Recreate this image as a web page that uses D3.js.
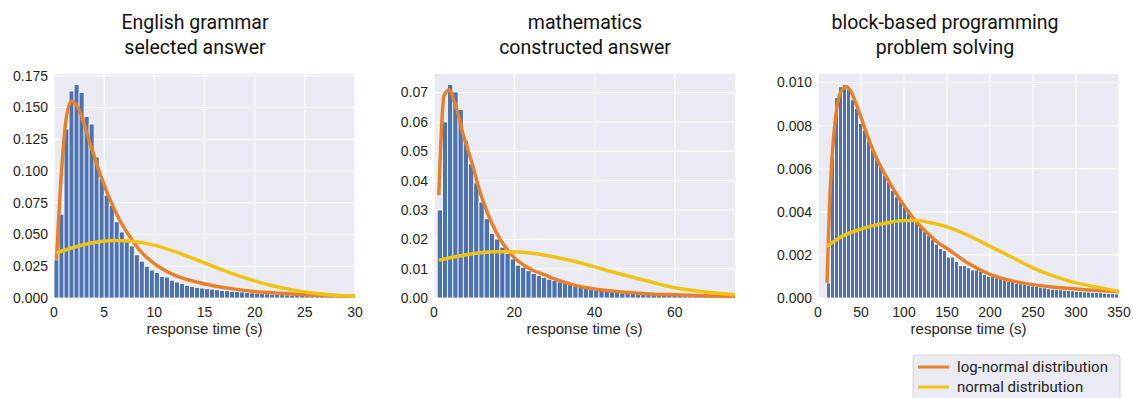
<!DOCTYPE html>
<html>
<head>
<meta charset="utf-8">
<script src="https://cdn.jsdelivr.net/npm/d3@7"></script>
<style>
  html, body { margin: 0; padding: 0; background: #ffffff; }
  svg { display: block; }
</style>
</head>
<body>
<div id="chart"></div>
<script>
/* Response-time histograms with fitted log-normal and normal curves */

var TITLES_TOP    = ['English grammar', 'mathematics', 'block-based programming'];
var TITLES_BOTTOM = ['selected answer', 'constructed answer', 'problem solving'];

var X_DOMAINS = [[0, 30], [0, 75], [0, 350]];
var X_TICKS = [
  [0, 5, 10, 15, 20, 25, 30],
  [0, 20, 40, 60],
  [0, 50, 100, 150, 200, 250, 300, 350]
];
var Y_TICKS = [
  [0, 0.025, 0.05, 0.075, 0.1, 0.125, 0.15, 0.175],
  [0, 0.01, 0.02, 0.03, 0.04, 0.05, 0.06, 0.07],
  [0, 0.002, 0.004, 0.006, 0.008, 0.01]
];
var Y_TICK_FORMATS = ['.3f', '.2f', '.3f'];

// histogram bins: first edge and width per panel
var BIN_START = [0, 0.8, 10];
var BIN_WIDTH = [0.5, 1.3, 4.65];

var ENGLISH_HIST = [
  0.030, 0.066, 0.133, 0.163, 0.168, 0.162, 0.143, 0.137, 0.111, 0.094,
  0.081, 0.073, 0.060, 0.052, 0.045, 0.041, 0.034, 0.029, 0.025, 0.022,
  0.020, 0.017, 0.0165, 0.014, 0.0126, 0.0113, 0.0100, 0.0090, 0.0084, 0.0078,
  0.0073, 0.0070, 0.0065, 0.0060, 0.0057, 0.0053, 0.0050, 0.0047, 0.0044, 0.0040,
  0.0038, 0.0035, 0.0033, 0.0030, 0.0028, 0.0026, 0.0024, 0.0022, 0.0020, 0.0019,
  0.0018, 0.0017, 0.0016, 0.0015, 0.0014, 0.0013, 0.0012, 0.0012, 0.0011, 0.0010
];
var MATH_HIST = [
  0.030, 0.060, 0.0727, 0.0702, 0.0642, 0.0537, 0.0457, 0.0392, 0.0327, 0.0270,
  0.0220, 0.0201, 0.0173, 0.0152, 0.0133, 0.0112, 0.0105, 0.0093, 0.0084, 0.0076,
  0.0070, 0.0064, 0.0059, 0.0055, 0.0051, 0.0046, 0.0040, 0.0037, 0.0034, 0.0031,
  0.0028, 0.0026, 0.0024, 0.0021, 0.0019, 0.0017, 0.0016, 0.0015, 0.0014, 0.0013,
  0.0012, 0.0012, 0.0011, 0.0010, 0.0010, 0.0009, 0.0009, 0.0008, 0.0008, 0.0008,
  0.0007, 0.0007, 0.0006, 0.0006, 0.0006, 0.0005, 0.0005
];
var BLOCK_HIST = [
  0.0007, 0.0070, 0.0093, 0.0098, 0.0099, 0.0097, 0.0092, 0.0088, 0.0081, 0.0078,
  0.0073, 0.0069, 0.0066, 0.0061, 0.0057, 0.0054, 0.0050, 0.0047, 0.0045, 0.0042,
  0.0041, 0.0038, 0.0036, 0.0034, 0.0031, 0.0029, 0.0027, 0.0025, 0.0023, 0.0022,
  0.0019, 0.0019, 0.0017, 0.0015, 0.0015, 0.0014, 0.0013, 0.0013, 0.00124, 0.00109,
  0.00101, 0.0010, 0.00093, 0.0009, 0.00084, 0.00078, 0.00078, 0.00068, 0.00066, 0.00062,
  0.0006, 0.00056, 0.00053, 0.0005, 0.00047, 0.00043, 0.00041, 0.0004, 0.00038, 0.00036,
  0.00035, 0.00033, 0.00031, 0.0003, 0.00028, 0.00027, 0.00026, 0.00025, 0.00024, 0.00022,
  0.00021, 0.0002, 0.00019
];

var ENGLISH_LOGNORM_X = [0.25, 0.75, 1.25, 1.75, 2.25, 2.75, 3.5, 4.5, 5.5, 6.5, 7.5, 8.5, 10, 12, 14, 16, 18, 20, 22.5, 25, 27.5, 30];
var ENGLISH_LOGNORM_Y = [0.030, 0.100, 0.143, 0.155, 0.152, 0.143, 0.124, 0.100, 0.079, 0.062, 0.049, 0.038, 0.027, 0.018, 0.013, 0.0095, 0.007, 0.0052, 0.0037, 0.0026, 0.0019, 0.0014];
var ENGLISH_NORM_X = [0.25, 2, 4, 6, 8, 10, 12, 14, 16, 18, 20, 22, 24, 26, 28, 30];
var ENGLISH_NORM_Y = [0.0355, 0.040, 0.0437, 0.0453, 0.0445, 0.0416, 0.0367, 0.0308, 0.0245, 0.0186, 0.0135, 0.0092, 0.006, 0.0037, 0.0021, 0.0012];

var MATH_LOGNORM_X = [1.2, 2.5, 3.9, 5, 6, 7, 8.5, 10, 11, 12.5, 14.3, 16.5, 18.8, 20.5, 22.6, 25, 27.6, 30, 35, 40, 45, 50, 55, 60, 67, 75];
var MATH_LOGNORM_Y = [0.035, 0.069, 0.071, 0.067, 0.0628, 0.057, 0.0503, 0.0435, 0.0383, 0.032, 0.0258, 0.020, 0.0156, 0.0131, 0.011, 0.0092, 0.0079, 0.0065, 0.0044, 0.0031, 0.0023, 0.0017, 0.0013, 0.0011, 0.0008, 0.0005];
var MATH_NORM_X = [1.2, 5, 10, 15, 20, 25, 30, 35, 40, 45, 50, 55, 60, 65, 70, 75];
var MATH_NORM_Y = [0.0129, 0.0140, 0.0152, 0.0158, 0.0158, 0.0152, 0.0140, 0.0125, 0.0106, 0.0087, 0.0069, 0.0051, 0.0035, 0.0025, 0.0017, 0.0011];

var BLOCK_LOGNORM_X = [10.5, 13.2, 16.3, 20.2, 24.8, 29, 33, 38, 43.4, 50, 55, 66.7, 78.3, 90, 101.6, 113, 125, 142, 150, 175, 200, 225, 250, 275, 300, 325, 350];
var BLOCK_LOGNORM_Y = [0.0007, 0.0041, 0.0065, 0.0083, 0.0094, 0.0097, 0.0098, 0.0096, 0.0091, 0.0084, 0.0078, 0.0066, 0.0057, 0.0049, 0.0042, 0.0036, 0.0031, 0.0025, 0.0023, 0.0016, 0.0011, 0.0008, 0.00062, 0.0005, 0.00042, 0.00035, 0.0003];
var BLOCK_NORM_X = [10.5, 25, 50, 75, 100, 115, 130, 150, 175, 200, 225, 250, 275, 300, 325, 350];
var BLOCK_NORM_Y = [0.0024, 0.0028, 0.0032, 0.00345, 0.0036, 0.0036, 0.0035, 0.0033, 0.0029, 0.0024, 0.0019, 0.0014, 0.0010, 0.0007, 0.0005, 0.0003];

var LEGEND_LABELS = ['log-normal distribution', 'normal distribution'];

(function () {
  'use strict';

  var WIDTH = 1133, HEIGHT = 398;
  var PLOT_LEFT = [54, 434, 818];
  var PLOT_WIDTH = 301;
  var PLOT_TOP = 74;
  var PLOT_HEIGHT = 224;
  var TITLE_CENTER = [195, 585, 945];

  var COLOR_BG    = '#eaeaf2';
  var COLOR_GRID  = '#ffffff';
  var COLOR_BAR   = '#4c72b0';
  var COLOR_LOG   = '#e8802a';
  var COLOR_NORM  = '#f2c212';
  var COLOR_TEXT  = '#1f1f1f';
  var TICK_FONT   = '"Liberation Sans", Arial, sans-serif';
  var TITLE_FONT  = 'Roboto, "Noto Sans", sans-serif';
  var CURVE_WIDTH = 3.5;

  var panels = [
    { hist: ENGLISH_HIST, logX: ENGLISH_LOGNORM_X, logY: ENGLISH_LOGNORM_Y, normX: ENGLISH_NORM_X, normY: ENGLISH_NORM_Y },
    { hist: MATH_HIST, logX: MATH_LOGNORM_X, logY: MATH_LOGNORM_Y, normX: MATH_NORM_X, normY: MATH_NORM_Y },
    { hist: BLOCK_HIST, logX: BLOCK_LOGNORM_X, logY: BLOCK_LOGNORM_Y, normX: BLOCK_NORM_X, normY: BLOCK_NORM_Y }
  ];

  var svg = d3.select('#chart').append('svg')
    .attr('width', WIDTH)
    .attr('height', HEIGHT);

  function drawPanel(p, i) {
    var left = PLOT_LEFT[i];
    var x = d3.scaleLinear().domain(X_DOMAINS[i]).range([0, PLOT_WIDTH]);
    var yMax = d3.max(p.hist) * 1.05;
    var y = d3.scaleLinear().domain([0, yMax]).range([PLOT_HEIGHT, 0]);

    var g = svg.append('g').attr('transform', 'translate(' + left + ',' + PLOT_TOP + ')');

    g.append('rect')
      .attr('width', PLOT_WIDTH).attr('height', PLOT_HEIGHT)
      .attr('fill', COLOR_BG);

    // grid
    g.append('g').selectAll('line.gy').data(Y_TICKS[i]).enter().append('line')
      .attr('x1', 0).attr('x2', PLOT_WIDTH)
      .attr('y1', function (d) { return y(d); }).attr('y2', function (d) { return y(d); })
      .attr('stroke', COLOR_GRID).attr('stroke-width', 1.2);
    g.append('g').selectAll('line.gx').data(X_TICKS[i]).enter().append('line')
      .attr('y1', 0).attr('y2', PLOT_HEIGHT)
      .attr('x1', function (d) { return x(d); }).attr('x2', function (d) { return x(d); })
      .attr('stroke', COLOR_GRID).attr('stroke-width', 1.2);

    // bars
    var start = BIN_START[i], bw = BIN_WIDTH[i];
    g.append('g').selectAll('rect').data(p.hist).enter().append('rect')
      .attr('x', function (d, k) { return x(start + k * bw); })
      .attr('width', function (d, k) { return x(start + (k + 1) * bw) - x(start + k * bw); })
      .attr('y', function (d) { return y(d); })
      .attr('height', function (d) { return PLOT_HEIGHT - y(d); })
      .attr('fill', COLOR_BAR)
      .attr('stroke', '#ffffff')
      .attr('stroke-width', 0.8);

    // fitted curves
    var line = d3.line()
      .x(function (d) { return x(d[0]); })
      .y(function (d) { return y(d[1]); })
      .curve(d3.curveMonotoneX);

    g.append('path')
      .datum(d3.zip(p.logX, p.logY))
      .attr('d', line)
      .attr('fill', 'none')
      .attr('stroke', COLOR_LOG)
      .attr('stroke-width', CURVE_WIDTH)
      .attr('stroke-linejoin', 'round');

    g.append('path')
      .datum(d3.zip(p.normX, p.normY))
      .attr('d', line)
      .attr('fill', 'none')
      .attr('stroke', COLOR_NORM)
      .attr('stroke-width', CURVE_WIDTH)
      .attr('stroke-linejoin', 'round');

    // tick labels
    var fmt = d3.format(Y_TICK_FORMATS[i]);
    g.append('g').selectAll('text').data(Y_TICKS[i]).enter().append('text')
      .attr('x', -6)
      .attr('y', function (d) { return y(d); })
      .attr('dy', '0.35em')
      .attr('text-anchor', 'end')
      .attr('font-family', TICK_FONT)
      .attr('font-size', '14px')
      .attr('fill', COLOR_TEXT)
      .text(function (d) { return fmt(d); });

    g.append('g').selectAll('text').data(X_TICKS[i]).enter().append('text')
      .attr('x', function (d) { return x(d); })
      .attr('y', PLOT_HEIGHT + 19)
      .attr('text-anchor', 'middle')
      .attr('font-family', TICK_FONT)
      .attr('font-size', '14px')
      .attr('fill', COLOR_TEXT)
      .text(function (d) { return d; });

    g.append('text')
      .attr('x', PLOT_WIDTH / 2)
      .attr('y', PLOT_HEIGHT + 36)
      .attr('text-anchor', 'middle')
      .attr('font-family', TICK_FONT)
      .attr('font-size', '15px')
      .attr('fill', COLOR_TEXT)
      .text('response time (s)');

    // titles
    svg.append('text')
      .attr('x', TITLE_CENTER[i]).attr('y', 29)
      .attr('text-anchor', 'middle')
      .attr('font-family', TITLE_FONT)
      .attr('font-size', '19.5px')
      .attr('fill', '#111')
      .text(TITLES_TOP[i]);
    svg.append('text')
      .attr('x', TITLE_CENTER[i]).attr('y', 54)
      .attr('text-anchor', 'middle')
      .attr('font-family', TITLE_FONT)
      .attr('font-size', '19.5px')
      .attr('fill', '#111')
      .text(TITLES_BOTTOM[i]);
  }

  panels.forEach(drawPanel);

  // legend
  var lg = svg.append('g').attr('transform', 'translate(913,355)');
  lg.append('rect')
    .attr('width', 207).attr('height', 50)
    .attr('rx', 3)
    .attr('fill', COLOR_BG)
    .attr('stroke', '#d4d4dc')
    .attr('stroke-width', 1);
  [COLOR_LOG, COLOR_NORM].forEach(function (c, k) {
    lg.append('line')
      .attr('x1', 5).attr('x2', 36)
      .attr('y1', 12 + k * 20).attr('y2', 12 + k * 20)
      .attr('stroke', c).attr('stroke-width', 3);
    lg.append('text')
      .attr('x', 44).attr('y', 12 + k * 20)
      .attr('dy', '0.35em')
      .attr('font-family', TITLE_FONT)
      .attr('font-size', '15px')
      .attr('fill', COLOR_TEXT)
      .text(LEGEND_LABELS[k]);
  });
})();
</script>
</body>
</html>
